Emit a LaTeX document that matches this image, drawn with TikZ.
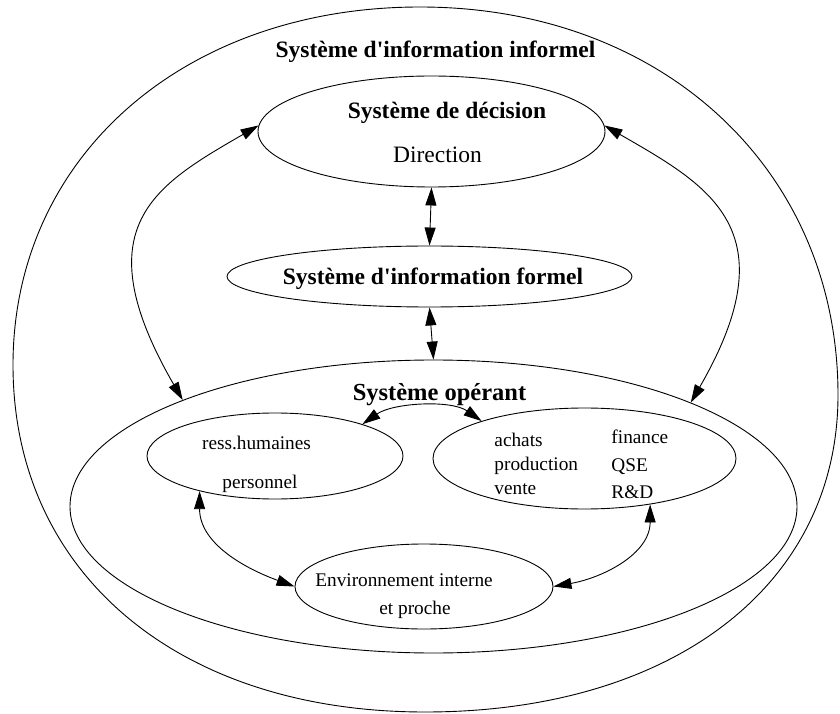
\documentclass[tikz,border=0pt]{standalone}
\usepackage{fontspec}
\setmainfont{Liberation Serif}
\usepackage{tikz}
\usetikzlibrary{arrows.meta,shapes.geometric}

\begin{document}
\begin{tikzpicture}[x=1pt, y=1pt, line width=0.9pt, >={Triangle[length=18pt,width=11pt]},
	sys/.style={draw, ellipse, inner sep=0pt},
	lbl/.style={inner sep=0pt, anchor=base},
	big/.style={font=\fontsize{23.5}{28}\selectfont\bfseries},
	txt/.style={font=\fontsize{19.3}{23}\selectfont}]
\useasboundingbox (0,0) rectangle (840,713);
% systeme d'information informel
\draw (420,706) .. controls (663,706) and (838,543) .. (838,318)
	.. controls (838,128) and (673,1) .. (425,1)
	.. controls (178,1) and (13,140) .. (13,348)
	.. controls (13,556) and (184,706) .. (420,706) -- cycle;
\node[lbl, big] (tinf) at (435.5,655) {Système d\textquotesingle information informel};
% ellipses
\node[sys, minimum width=347, minimum height=111] (dec) at (431.5,581.5) {};
\node[sys, minimum width=405, minimum height=61] (formel) at (429.5,436.5) {};
\node[sys, minimum width=727, minimum height=293] (op) at (433.5,206.5) {};
\node[sys, minimum width=256, minimum height=86] (rh) at (275,257) {};
\node[sys, minimum width=303, minimum height=101] (prod) at (584.5,254.5) {};
\node[sys, minimum width=258, minimum height=85] (env) at (424,126.5) {};
% textes
\node[lbl, big] (tdec) at (447,594) {Système de décision};
\node[lbl, font=\fontsize{23.5}{28}\selectfont] (tdir) at (437.5,550) {Direction};
\node[lbl, font=\fontsize{24.5}{29}\selectfont\bfseries] (top) at (439.5,313) {Système opérant};
\node[lbl, big] (tformel) at (433,428) {Système d\textquotesingle information formel};
\node[lbl, txt] (trh) at (256.5,264) {ress.humaines};
\node[lbl, txt] (tpers) at (260,225) {personnel};
\node[lbl, txt, anchor=base west] (tach) at (494,267) {achats};
\node[lbl, txt, anchor=base west] (tprod) at (494,243) {production};
\node[lbl, txt, anchor=base west] (tvente) at (494,219) {vente};
\node[lbl, txt, anchor=base west] (tfin) at (611,270) {finance};
\node[lbl, txt, anchor=base west] (tqse) at (611,242) {QSE};
\node[lbl, txt, anchor=base west] (trd) at (611,215) {R\&D};
\node[lbl, txt] (tenv) at (404,127) {Environnement interne};
\node[lbl, txt] (tproche) at (415,99) {et proche};
% fleches
\draw[<->] (dec.south) -- (formel.north);
\draw[<->] (formel.south) -- (op.north);
\draw[<->] (dec.178) .. controls +(210:120) and +(120:200) .. (op.157);
\draw[<->] (dec.2) .. controls +(330:120) and +(60:200) .. (op.22);
\draw[<->] (rh.20) to[out=35, in=145, looseness=0.8] (prod.160);
\draw[<->] (rh.205) to[out=270, in=160] (env.west);
\draw[<->] (prod.325) to[out=270, in=10] (env.east);
\end{tikzpicture}
\end{document}
